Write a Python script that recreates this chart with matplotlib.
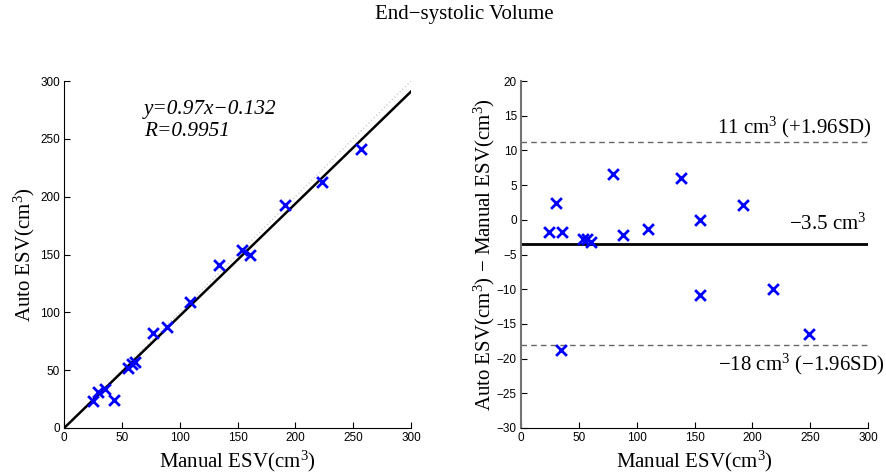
import matplotlib
matplotlib.use("Agg")
import matplotlib.pyplot as plt
import numpy as np

# left panel: manual vs auto ESV (cm^3)
manual_esv = [24.8, 29.1, 35.4, 43.5, 55.6, 58.4, 61.4, 77.0, 89.0, 109.0,
              134.4, 153.8, 160.4, 190.8, 223.0, 257.0]
auto_esv = [23.3, 31.4, 33.7, 24.5, 52.1, 55.6, 57.3, 82.4, 87.0, 108.7,
            141.0, 154.0, 149.4, 193.0, 213.0, 241.0]
fit_slope, fit_icpt = 0.97, -0.132

# right panel: Bland-Altman
ba_x = [23.9, 30.3, 35.4, 34.6, 53.6, 57.0, 60.5, 79.5, 88.2, 109.5,
        138.3, 154.5, 155.0, 192.0, 218.0, 248.7]
ba_diff = [-1.75, 2.48, -1.75, -18.7, -2.7, -2.8, -3.2, 6.67, -2.23, -1.27,
           6.0, -0.07, -10.85, 2.15, -9.9, -16.5]
mean_diff = -3.42
upper_loa = 11.2
lower_loa = -18.07

serif = ['Liberation Serif', 'DejaVu Serif']
sans = ['Liberation Sans', 'DejaVu Sans']
plt.rcParams['font.family'] = sans
plt.rcParams['mathtext.fontset'] = 'custom'
plt.rcParams['mathtext.rm'] = 'Liberation Serif'
plt.rcParams['mathtext.it'] = 'Liberation Serif:italic'

fig = plt.figure(figsize=(8.86, 4.76), dpi=100)
ax1 = fig.add_axes([64/886, 48/476, 347/886, 347/476])
ax2 = fig.add_axes([521/886, 48/476, 347/886, 347/476])

for ax in (ax1, ax2):
    ax.spines['top'].set_visible(False)
    ax.spines['right'].set_visible(False)
    ax.tick_params(direction='in', length=4, labelsize=8.5, pad=3)
    ax.set_xlim(0, 300)
    ax.set_xticks(np.arange(0, 301, 50))

# left
xx = np.array([0, 300])
ax1.plot(xx, xx, ls=':', color='0.82', lw=1)
ax1.plot(xx, fit_slope*xx + fit_icpt, color='k', lw=1.8)
ax1.scatter(manual_esv, auto_esv, marker='x', color='#0000ff', s=60, lw=2, zorder=5)
ax1.set_ylim(0, 300)
ax1.set_yticks(np.arange(0, 301, 50))
ax1.set_xlabel('Manual ESV(cm$^3$)', family=serif, fontsize=15, labelpad=3)
ax1.set_ylabel('Auto ESV(cm$^3$)', family=serif, fontsize=15, labelpad=2)
ax1.text(69, 275, 'y=0.97x\u22120.132', family=serif, style='italic', fontsize=15.3, va='center')
ax1.text(69, 256, 'R=0.9951', family=serif, style='italic', fontsize=15.3, va='center')

# right
ax2.axhline(upper_loa, color='0.4', ls='--', lw=1, dashes=(4, 3))
ax2.axhline(lower_loa, color='0.4', ls='--', lw=1, dashes=(4, 3))
ax2.axhline(mean_diff, color='k', lw=2)
ax2.scatter(ba_x, ba_diff, marker='x', color='#0000ff', s=60, lw=2, zorder=5)
ax2.set_ylim(-30, 20)
ax2.set_yticks(np.arange(-30, 21, 5))
ax2.set_yticklabels(['\u2212%d' % -v if v < 0 else '%d' % v for v in np.arange(-30, 21, 5)])
ax2.spines['left'].set_color('0.45')
ax2.spines['left'].set_linewidth(1.5)
ax2.set_xlabel('Manual ESV(cm$^3$)', family=serif, fontsize=15, labelpad=3)
ax2.set_ylabel('Auto ESV(cm$^3$) \u2212 Manual ESV(cm$^3$)', family=serif, fontsize=15, labelpad=0)
ax2.text(303, 13.3, '11 cm$^3$ (+1.96SD)', family=serif, fontsize=15, ha='right', va='center', clip_on=False)
ax2.text(299, -0.7, '\u22123.5 cm$^3$', family=serif, fontsize=15, ha='right', va='center', clip_on=False)
ax2.text(314, -20.9, '\u221218 cm$^3$ (\u22121.96SD)', family=serif, fontsize=15, ha='right', va='center', clip_on=False)

fig.text(464/886, 1 - 14/476, 'End\u2212systolic Volume', family=serif, fontsize=15, ha='center', va='center')

fig.savefig('out.png', dpi=100)
